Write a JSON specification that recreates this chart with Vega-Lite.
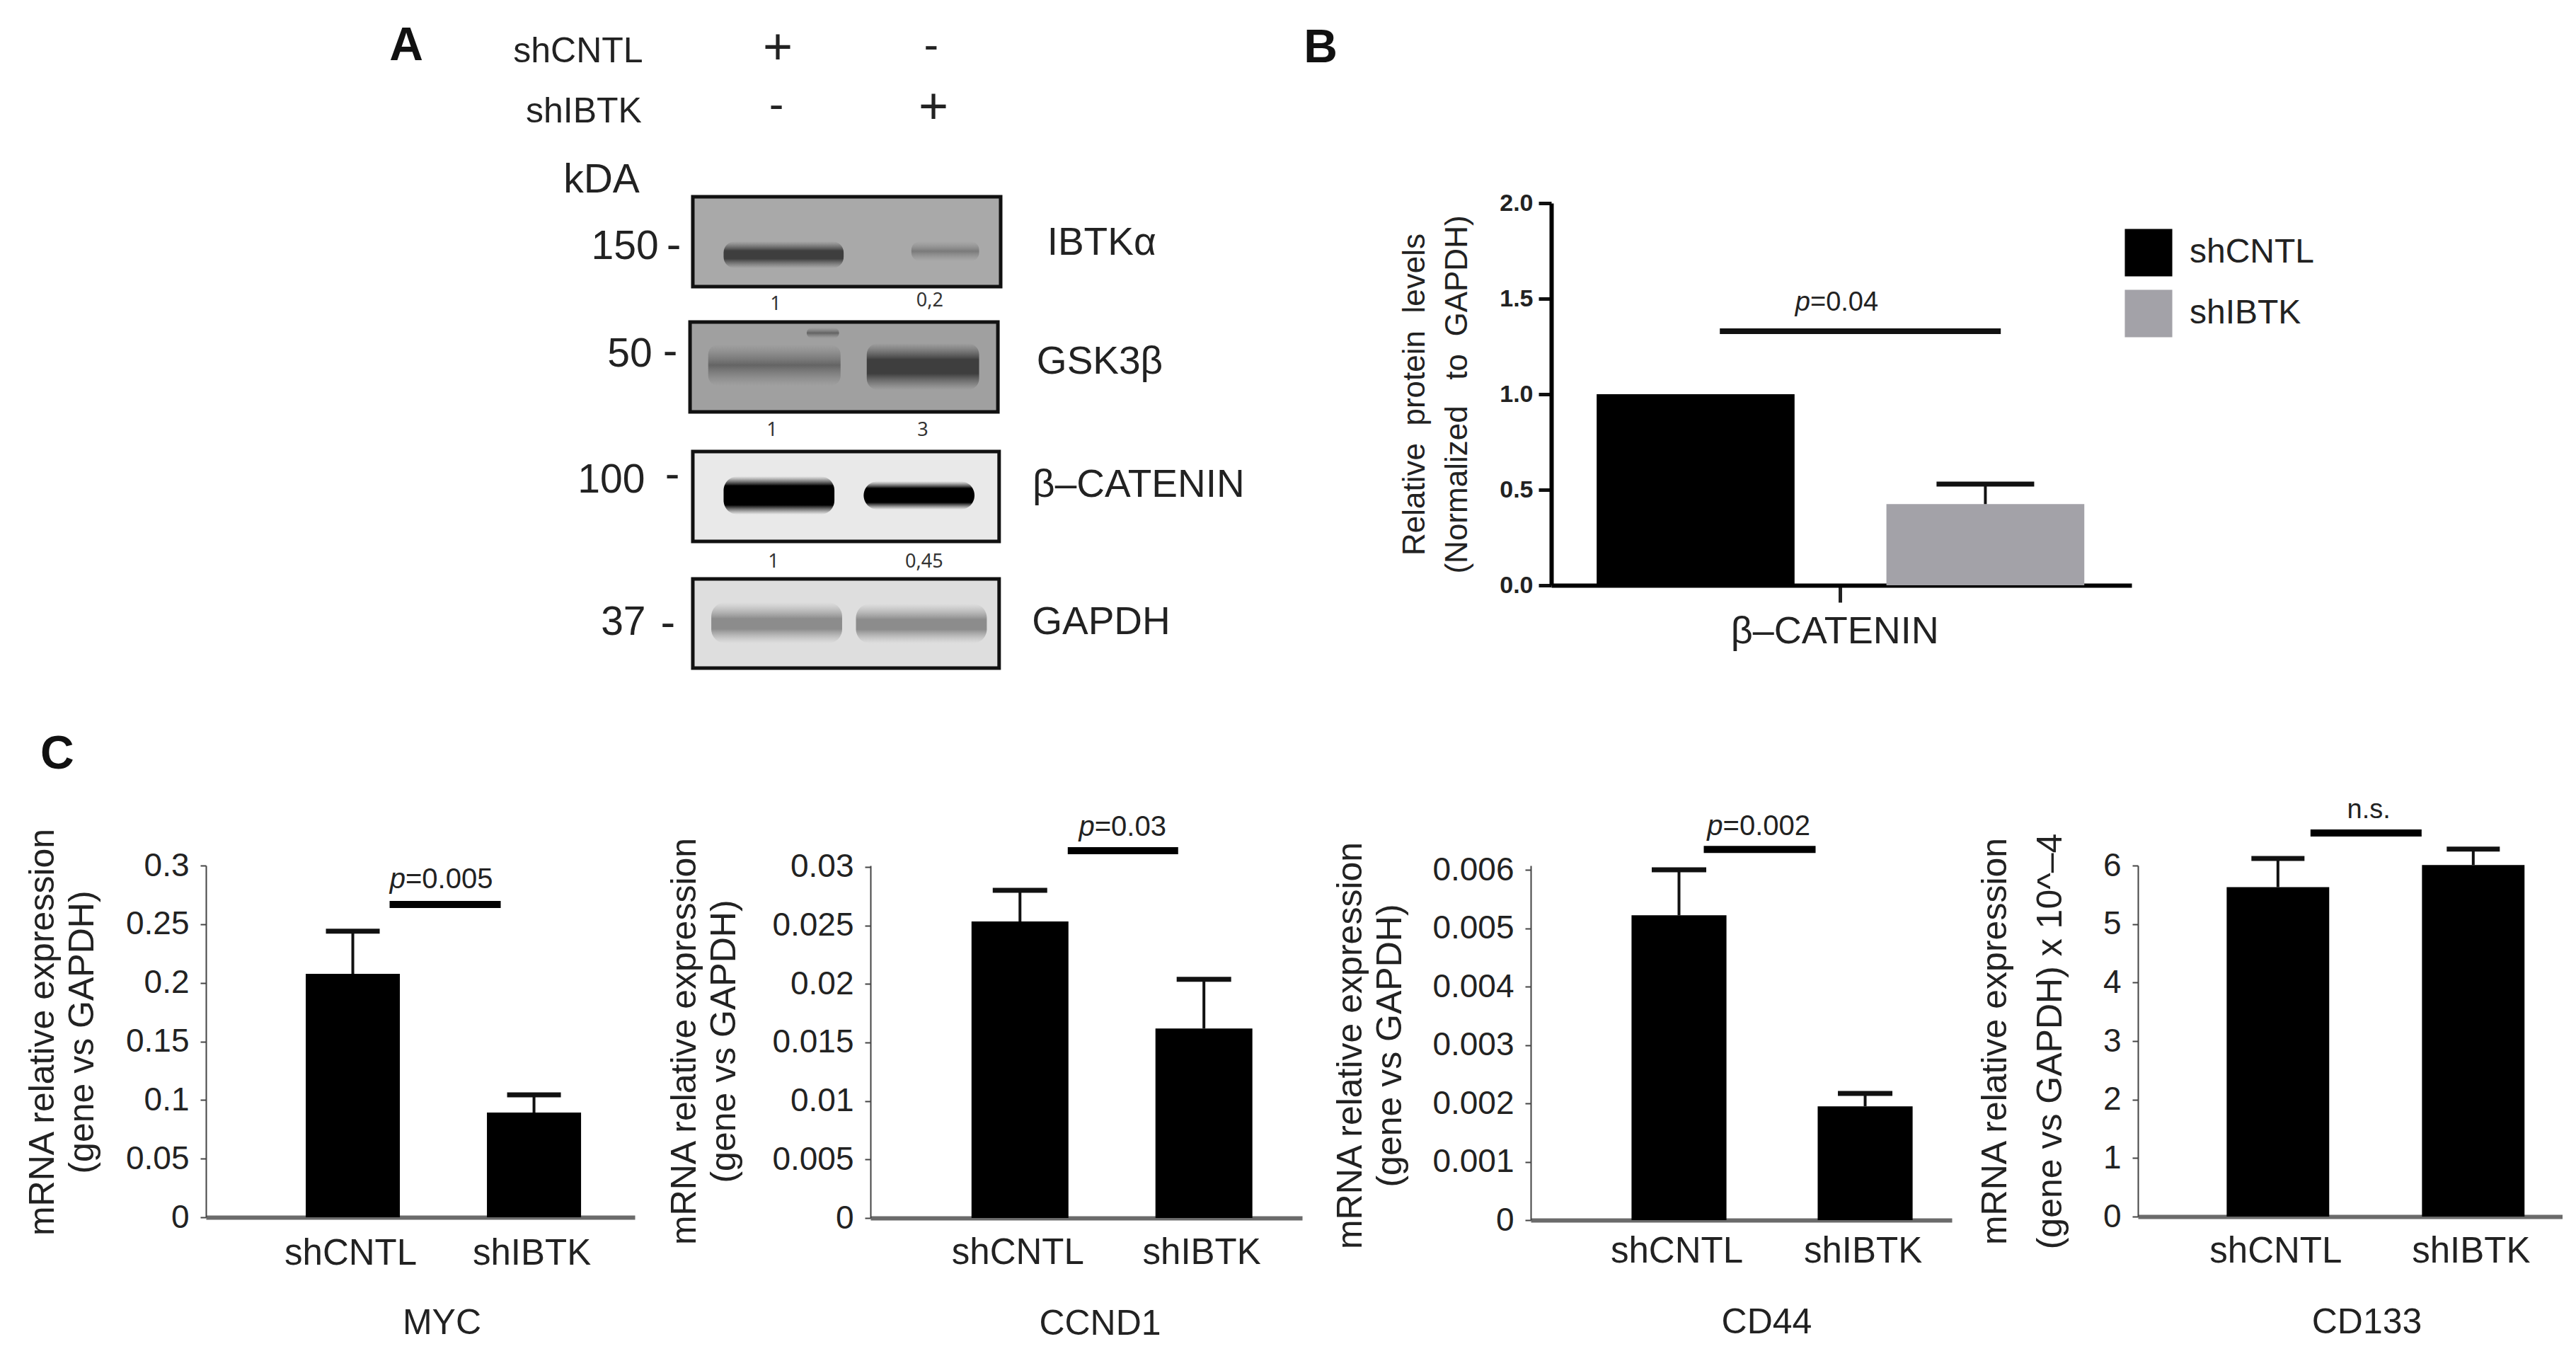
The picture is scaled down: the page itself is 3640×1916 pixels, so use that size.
{
"$schema":"https://vega.github.io/schema/vega-lite/v6.json",
"background":"white",
"padding":{"left":35,"top":31,"right":0,"bottom":0},
"bounds":"flush",
"spacing":936,
"config":{"font":"Liberation Sans","view":{"stroke":null},"axis":{"grid":false,"labelColor":"#222","titleColor":"#222","labelFont":"Liberation Sans","titleFont":"Liberation Sans","titleFontWeight":"normal","labelLimit":600}},
"datasets":{
"blots":[{"blot":"IBTKa","x":-0.0,"x2":2.0,"y":-0.045,"y2":0.59,"shade":"#a9a9a9"},{"blot":"GSK3b","x":-0.018,"x2":1.982,"y":0.84,"y2":1.475,"shade":"#a0a0a0"},{"blot":"CTNNB1","x":0,"x2":1.99,"y":1.755,"y2":2.39,"shade":"#e9e9e9"},{"blot":"GAPDH","x":0,"x2":1.99,"y":2.655,"y2":3.285,"shade":"#dedede"}],
"bands":[
{"blot":"IBTKa","lane":1,"level":"dark","x":0.2,"x2":0.98,"y":0.27,"y2":0.46},
{"blot":"IBTKa","lane":2,"level":"faint","x":1.42,"x2":1.86,"y":0.27,"y2":0.41},
{"blot":"GSK3b","lane":1,"level":"mid","x":0.1,"x2":0.96,"y":1.0,"y2":1.29},
{"blot":"GSK3b","lane":1,"level":"mid","x":0.74,"x2":0.95,"y":0.88,"y2":0.955},
{"blot":"GSK3b","lane":2,"level":"dark","x":1.13,"x2":1.86,"y":0.99,"y2":1.32},
{"blot":"CTNNB1","lane":1,"level":"black","x":0.2,"x2":0.92,"y":1.93,"y2":2.2},
{"blot":"CTNNB1","lane":2,"level":"black","x":1.11,"x2":1.83,"y":1.965,"y2":2.165},
{"blot":"GAPDH","lane":1,"level":"soft","x":0.12,"x2":0.97,"y":2.82,"y2":3.11},
{"blot":"GAPDH","lane":2,"level":"soft","x":1.06,"x2":1.91,"y":2.83,"y2":3.11}],
"labels":[{"t":"shCNTL","x":-0.745,"y":-1.07},{"t":"shIBTK","x":-0.708,"y":-0.645}],
"plus":[{"t":"+","x":0.552,"y":-1.095},{"t":"+","x":1.563,"y":-0.675}],
"minus":[{"t":"-","x":1.549,"y":-1.11},{"t":"-","x":0.543,"y":-0.69},{"t":"-","x":-0.124,"y":0.3},{"t":"-","x":-0.147,"y":1.05},{"t":"-","x":-0.133,"y":1.92},{"t":"-","x":-0.161,"y":2.97}],
"big":[{"t":"kDA","x":-0.593,"y":-0.16},{"t":"150","x":-0.441,"y":0.31},{"t":"50","x":-0.409,"y":1.07},{"t":"100","x":-0.529,"y":1.96},{"t":"37","x":-0.451,"y":2.965}],
"names":[{"t":"IBTKα","x":2.656,"y":0.28},{"t":"GSK3β","x":2.644,"y":1.12},{"t":"β–CATENIN","x":2.896,"y":1.99},{"t":"GAPDH","x":2.653,"y":2.96}],
"quant":[{"t":"1","x":0.538,"y":0.715},{"t":"0,2","x":1.54,"y":0.69},{"t":"1","x":0.515,"y":1.605},{"t":"3","x":1.494,"y":1.605},{"t":"1","x":0.524,"y":2.535},{"t":"0,45","x":1.503,"y":2.535}],
"letters":[{"t":"A","x":-1.862,"y":-1.11},{"t":"B","x":4.078,"y":-1.095},{"t":"C","x":-4.129,"y":3.895}]
},
"vconcat":[
{"bounds":"flush","spacing":0,"hconcat":[
{"width":1901,"height":600,
"layer":[
{"data":{"name":"blots"},"mark":{"type":"rect","stroke":"#111","strokeWidth":5},
"encoding":{"x":{"field":"x","type":"quantitative","axis":null,"scale":{"domain":[-3.163,5.577],"nice":false,"zero":false}},"x2":{"field":"x2"},"y":{"field":"y","type":"quantitative","axis":null,"scale":{"domain":[3,0],"nice":false,"zero":false}},"y2":{"field":"y2"},"fill":{"field":"shade","type":"nominal","scale":null}}},
{"data":{"name":"bands"},"transform":[{"filter":"datum.level=='faint'"}],"mark":{"type":"rect","cornerRadius":12,"fill":{"gradient":"linear","x1":0,"y1":0,"x2":0,"y2":1,"stops":[{"offset":0,"color":"rgba(140,140,140,0)"},{"offset":0.5,"color":"rgba(122,122,122,1)"},{"offset":1,"color":"rgba(140,140,140,0)"}]}},"encoding":{"x":{"field":"x","type":"quantitative"},"x2":{"field":"x2"},"y":{"field":"y","type":"quantitative"},"y2":{"field":"y2"}}},
{"data":{"name":"bands"},"transform":[{"filter":"datum.level=='mid'"}],"mark":{"type":"rect","cornerRadius":14,"fill":{"gradient":"linear","x1":0,"y1":0,"x2":0,"y2":1,"stops":[{"offset":0,"color":"rgba(120,120,120,0)"},{"offset":0.5,"color":"rgba(100,100,100,1)"},{"offset":1,"color":"rgba(120,120,120,0)"}]}},"encoding":{"x":{"field":"x","type":"quantitative"},"x2":{"field":"x2"},"y":{"field":"y","type":"quantitative"},"y2":{"field":"y2"}}},
{"data":{"name":"bands"},"transform":[{"filter":"datum.level=='dark'"}],"mark":{"type":"rect","cornerRadius":16,"fill":{"gradient":"linear","x1":0,"y1":0,"x2":0,"y2":1,"stops":[{"offset":0,"color":"rgba(90,90,90,0)"},{"offset":0.35,"color":"rgba(62,62,62,1)"},{"offset":0.65,"color":"rgba(62,62,62,1)"},{"offset":1,"color":"rgba(90,90,90,0)"}]}},"encoding":{"x":{"field":"x","type":"quantitative"},"x2":{"field":"x2"},"y":{"field":"y","type":"quantitative"},"y2":{"field":"y2"}}},
{"data":{"name":"bands"},"transform":[{"filter":"datum.level=='black'"}],"mark":{"type":"rect","cornerRadius":20,"fill":{"gradient":"linear","x1":0,"y1":0,"x2":0,"y2":1,"stops":[{"offset":0,"color":"rgba(60,60,60,0)"},{"offset":0.25,"color":"rgba(0,0,0,1)"},{"offset":0.75,"color":"rgba(0,0,0,1)"},{"offset":1,"color":"rgba(60,60,60,0)"}]}},"encoding":{"x":{"field":"x","type":"quantitative"},"x2":{"field":"x2"},"y":{"field":"y","type":"quantitative"},"y2":{"field":"y2"}}},
{"data":{"name":"bands"},"transform":[{"filter":"datum.level=='soft'"}],"mark":{"type":"rect","cornerRadius":20,"fill":{"gradient":"linear","x1":0,"y1":0,"x2":0,"y2":1,"stops":[{"offset":0,"color":"rgba(170,170,170,0)"},{"offset":0.4,"color":"rgba(140,140,140,1)"},{"offset":0.65,"color":"rgba(140,140,140,1)"},{"offset":1,"color":"rgba(170,170,170,0)"}]}},"encoding":{"x":{"field":"x","type":"quantitative"},"x2":{"field":"x2"},"y":{"field":"y","type":"quantitative"},"y2":{"field":"y2"}}},
{"data":{"name":"labels"},"mark":{"type":"text","fontSize":50,"color":"#222","baseline":"middle"},"encoding":{"x":{"field":"x","type":"quantitative"},"y":{"field":"y","type":"quantitative"},"text":{"field":"t"}}},
{"data":{"name":"big"},"mark":{"type":"text","fontSize":57,"color":"#222","baseline":"middle"},"encoding":{"x":{"field":"x","type":"quantitative"},"y":{"field":"y","type":"quantitative"},"text":{"field":"t"}}},
{"data":{"name":"names"},"mark":{"type":"text","fontSize":55,"color":"#222","baseline":"middle"},"encoding":{"x":{"field":"x","type":"quantitative"},"y":{"field":"y","type":"quantitative"},"text":{"field":"t"}}},
{"data":{"name":"plus"},"mark":{"type":"text","fontSize":72,"color":"#222","baseline":"middle"},"encoding":{"x":{"field":"x","type":"quantitative"},"y":{"field":"y","type":"quantitative"},"text":{"field":"t"}}},
{"data":{"name":"minus"},"mark":{"type":"text","fontSize":62,"color":"#222","baseline":"middle"},"encoding":{"x":{"field":"x","type":"quantitative"},"y":{"field":"y","type":"quantitative"},"text":{"field":"t"}}},
{"data":{"name":"quant"},"mark":{"type":"text","fontSize":27,"font":"Noto Sans","color":"#333","baseline":"middle"},"encoding":{"x":{"field":"x","type":"quantitative"},"y":{"field":"y","type":"quantitative"},"text":{"field":"t"}}},
{"data":{"name":"letters"},"mark":{"type":"text","fontSize":66,"fontWeight":"bold","color":"#111","baseline":"middle"},"encoding":{"x":{"field":"x","type":"quantitative"},"y":{"field":"y","type":"quantitative"},"text":{"field":"t"}}}
]},
{"width":820,"height":540,
"data":{"values":[{"gene":"β–CATENIN","group":"shCNTL","mean":1.0},{"gene":"β–CATENIN","group":"shIBTK","mean":0.425,"upper":0.53}]},
"layer":[
{"mark":{"type":"bar"},"encoding":{
"x":{"field":"gene","type":"nominal","scale":{"type":"band","range":[0,820],"paddingInner":0,"paddingOuter":0.095,"align":0.49},"axis":{"title":null,"labelAngle":0,"labelFontSize":54,"labelPadding":14,"labelOffset":-8,"domainColor":"#000","domainWidth":6,"tickColor":"#222","tickWidth":5,"tickSize":24}},
"xOffset":{"field":"group","type":"nominal","scale":{"domain":["shCNTL","shIBTK"],"paddingInner":0.317,"paddingOuter":0}},
"y":{"field":"mean","type":"quantitative","scale":{"domain":[0,2],"nice":false},"axis":{"values":[0,0.5,1,1.5,2],"format":".1f","labelFontSize":34,"labelFontWeight":"bold","labelPadding":8,"domainColor":"#000","domainWidth":6,"tickColor":"#111","tickWidth":5,"tickSize":18,"title":["Relative\u00a0\u00a0protein\u00a0\u00a0levels\u00a0\u00a0\u00a0\u00a0","(Normalized\u00a0\u00a0\u00a0to\u00a0\u00a0GAPDH)"],"titleFontSize":44,"titleLineHeight":60,"titleAngle":-90,"titleBaseline":"alphabetic","titleAlign":"center","titleX":-180,"titleY":270}},
"color":{"field":"group","type":"nominal","scale":{"domain":["shCNTL","shIBTK"],"range":["#000000","#a3a2a8"]},"legend":{"title":null,"orient":"none","legendX":2711,"legendY":36,"symbolType":"square","symbolSize":4500,"symbolStrokeWidth":0,"labelFontSize":48,"labelLimit":400,"labelColor":"#222","labelOffset":24,"rowPadding":18}}}},
{"transform":[{"filter":"isValid(datum.upper)"}],"mark":{"type":"rule","color":"#111","strokeWidth":4},"encoding":{"x":{"field":"gene","type":"nominal"},"xOffset":{"field":"group","type":"nominal"},"y":{"field":"mean","type":"quantitative"},"y2":{"field":"upper"}}},
{"transform":[{"filter":"isValid(datum.upper)"}],"mark":{"type":"tick","orient":"horizontal","color":"#111","opacity":1,"size":138,"thickness":7},"encoding":{"x":{"field":"gene","type":"nominal"},"xOffset":{"field":"group","type":"nominal"},"y":{"field":"upper","type":"quantitative"}}},
{"data":{"values":[{"gene":"β–CATENIN","bar":1.33}]},"mark":{"type":"tick","orient":"horizontal","color":"#111","opacity":1,"size":397,"thickness":8,"xOffset":28},"encoding":{"x":{"field":"gene","type":"nominal"},"y":{"field":"bar","type":"quantitative"}}},
{"data":{"values":[{"gene":"β–CATENIN","py":1.478,"a":"p","b":"=0.04"}]},"mark":{"type":"text","align":"right","fontStyle":"italic","fontSize":38,"color":"#222","baseline":"middle"},"encoding":{"x":{"field":"gene","type":"nominal","bandPosition":0.438},"y":{"field":"py","type":"quantitative"},"text":{"field":"a"}}},
{"data":{"values":[{"gene":"β–CATENIN","py":1.478,"a":"p","b":"=0.04"}]},"mark":{"type":"text","align":"left","fontSize":38,"color":"#222","baseline":"middle"},"encoding":{"x":{"field":"gene","type":"nominal","bandPosition":0.438},"y":{"field":"py","type":"quantitative"},"text":{"field":"b"}}}
]}
]},
{"bounds":"flush","spacing":0,"hconcat":[
{"width":939,"height":497,
"data":{"values":[{"group":"shCNTL","mean":0.2076,"upper":0.244},{"group":"shIBTK","mean":0.0893,"upper":0.1044}]},
"layer":[
{"mark":{"type":"bar","color":"#000"},"encoding":{
"x":{"field":"group","type":"nominal","scale":{"type":"band","domain":["shCNTL","shIBTK"],"range":[0,606],"paddingInner":0.4805,"paddingOuter":0.4237,"align":0.65},"axis":{"labelAngle":0,"labelFontSize":51,"labelPadding":26,"labelOffset":-3,"ticks":false,"domainColor":"#6b6b6b","domainWidth":6,"title":"MYC","titleFontSize":50,"titleX":333,"titleY":149,"titleBaseline":"middle","titleAlign":"center"}},
"y":{"field":"mean","type":"quantitative","scale":{"domain":[0,0.3],"nice":false},"axis":{"values":[0,0.05,0.1,0.15,0.2,0.25,0.3],"format":"~g","labelFontSize":46,"labelPadding":16,"domainColor":"#444","domainWidth":2,"tickColor":"#444","tickWidth":2,"tickSize":8,"title":["mRNA relative expression","(gene vs GAPDH)"],"titleFontSize":50,"titleLineHeight":56,"titleAngle":-90,"titleBaseline":"alphabetic","titleAlign":"center","titleX":-216,"titleY":235}}}},
{"mark":{"type":"rule","color":"#111","strokeWidth":4},"encoding":{"x":{"field":"group","type":"nominal"},"y":{"field":"mean","type":"quantitative"},"y2":{"field":"upper"}}},
{"mark":{"type":"tick","orient":"horizontal","color":"#111","opacity":1,"size":76,"thickness":7},"encoding":{"x":{"field":"group","type":"nominal"},"y":{"field":"upper","type":"quantitative"}}},
{"data":{"values":[{"group":"shCNTL","bar":0.2668}]},"mark":{"type":"tick","orient":"horizontal","color":"#000","opacity":1,"size":157,"thickness":10,"xOffset":130.5},"encoding":{"x":{"field":"group","type":"nominal"},"y":{"field":"bar","type":"quantitative"}}},
{"data":{"values":[{"group":"shCNTL","py":0.288,"a":"p","b":"=0.005"}]},"mark":{"type":"text","align":"right","fontStyle":"italic","fontSize":40,"color":"#222","baseline":"middle"},"encoding":{"x":{"field":"group","type":"nominal","bandPosition":1.06},"y":{"field":"py","type":"quantitative"},"text":{"field":"a"}}},
{"data":{"values":[{"group":"shCNTL","py":0.288,"a":"p","b":"=0.005"}]},"mark":{"type":"text","align":"left","fontSize":40,"color":"#222","baseline":"middle"},"encoding":{"x":{"field":"group","type":"nominal","bandPosition":1.06},"y":{"field":"py","type":"quantitative"},"text":{"field":"b"}}}
]},
{"width":933,"height":498,
"data":{"values":[{"group":"shCNTL","mean":0.02534,"upper":0.028},{"group":"shIBTK","mean":0.0162,"upper":0.0204}]},
"layer":[
{"mark":{"type":"bar","color":"#000"},"encoding":{
"x":{"field":"group","type":"nominal","scale":{"type":"band","domain":["shCNTL","shIBTK"],"range":[0,610],"paddingInner":0.473,"paddingOuter":0.41,"align":0.67},"axis":{"labelAngle":0,"labelFontSize":51,"labelPadding":24,"labelOffset":-3,"ticks":false,"domainColor":"#6b6b6b","domainWidth":6,"title":"CCND1","titleFontSize":50,"titleX":324,"titleY":149,"titleBaseline":"middle","titleAlign":"center"}},
"y":{"field":"mean","type":"quantitative","scale":{"domain":[0,0.03012],"nice":false},"axis":{"values":[0,0.005,0.01,0.015,0.02,0.025,0.03],"format":"~g","labelFontSize":46,"labelPadding":16,"domainColor":"#444","domainWidth":2,"tickColor":"#444","tickWidth":2,"tickSize":8,"title":["mRNA relative expression","(gene vs GAPDH)"],"titleFontSize":50,"titleLineHeight":56,"titleAngle":-90,"titleBaseline":"alphabetic","titleAlign":"center","titleX":-248,"titleY":248}}}},
{"mark":{"type":"rule","color":"#111","strokeWidth":4},"encoding":{"x":{"field":"group","type":"nominal"},"y":{"field":"mean","type":"quantitative"},"y2":{"field":"upper"}}},
{"mark":{"type":"tick","orient":"horizontal","color":"#111","opacity":1,"size":77,"thickness":7},"encoding":{"x":{"field":"group","type":"nominal"},"y":{"field":"upper","type":"quantitative"}}},
{"data":{"values":[{"group":"shCNTL","bar":0.03139}]},"mark":{"type":"tick","orient":"horizontal","color":"#000","opacity":1,"size":156,"thickness":10,"xOffset":145.5},"encoding":{"x":{"field":"group","type":"nominal"},"y":{"field":"bar","type":"quantitative"}}},
{"data":{"values":[{"group":"shCNTL","py":0.03339,"a":"p","b":"=0.03"}]},"mark":{"type":"text","align":"right","fontStyle":"italic","fontSize":40,"color":"#222","baseline":"middle"},"encoding":{"x":{"field":"group","type":"nominal","bandPosition":1.27},"y":{"field":"py","type":"quantitative"},"text":{"field":"a"}}},
{"data":{"values":[{"group":"shCNTL","py":0.03339,"a":"p","b":"=0.03"}]},"mark":{"type":"text","align":"left","fontSize":40,"color":"#222","baseline":"middle"},"encoding":{"x":{"field":"group","type":"nominal","bandPosition":1.27},"y":{"field":"py","type":"quantitative"},"text":{"field":"b"}}}
]},
{"width":858,"height":501,
"data":{"values":[{"group":"shCNTL","mean":0.00522,"upper":0.006},{"group":"shIBTK","mean":0.00195,"upper":0.00217}]},
"layer":[
{"mark":{"type":"bar","color":"#000"},"encoding":{
"x":{"field":"group","type":"nominal","scale":{"type":"band","domain":["shCNTL","shIBTK"],"range":[0,595],"paddingInner":0.49,"paddingOuter":0.376,"align":0.72},"axis":{"labelAngle":0,"labelFontSize":51,"labelPadding":19,"labelOffset":-3,"ticks":false,"domainColor":"#6b6b6b","domainWidth":6,"title":"CD44","titleFontSize":50,"titleX":333,"titleY":144,"titleBaseline":"middle","titleAlign":"center"}},
"y":{"field":"mean","type":"quantitative","scale":{"domain":[0,0.006073],"nice":false},"axis":{"values":[0,0.001,0.002,0.003,0.004,0.005,0.006],"format":"~g","labelFontSize":46,"labelPadding":16,"domainColor":"#444","domainWidth":2,"tickColor":"#444","tickWidth":2,"tickSize":8,"title":["mRNA relative expression","(gene vs GAPDH)"],"titleFontSize":50,"titleLineHeight":56,"titleAngle":-90,"titleBaseline":"alphabetic","titleAlign":"center","titleX":-240,"titleY":254}}}},
{"mark":{"type":"rule","color":"#111","strokeWidth":4},"encoding":{"x":{"field":"group","type":"nominal"},"y":{"field":"mean","type":"quantitative"},"y2":{"field":"upper"}}},
{"mark":{"type":"tick","orient":"horizontal","color":"#111","opacity":1,"size":77,"thickness":7},"encoding":{"x":{"field":"group","type":"nominal"},"y":{"field":"upper","type":"quantitative"}}},
{"data":{"values":[{"group":"shCNTL","bar":0.00635}]},"mark":{"type":"tick","orient":"horizontal","color":"#000","opacity":1,"size":158,"thickness":10,"xOffset":114},"encoding":{"x":{"field":"group","type":"nominal"},"y":{"field":"bar","type":"quantitative"}}},
{"data":{"values":[{"group":"shCNTL","py":0.00674,"a":"p","b":"=0.002"}]},"mark":{"type":"text","align":"right","fontStyle":"italic","fontSize":40,"color":"#222","baseline":"middle"},"encoding":{"x":{"field":"group","type":"nominal","bandPosition":0.963},"y":{"field":"py","type":"quantitative"},"text":{"field":"a"}}},
{"data":{"values":[{"group":"shCNTL","py":0.00674,"a":"p","b":"=0.002"}]},"mark":{"type":"text","align":"left","fontSize":40,"color":"#222","baseline":"middle"},"encoding":{"x":{"field":"group","type":"nominal","bandPosition":0.963},"y":{"field":"py","type":"quantitative"},"text":{"field":"b"}}}
]},
{"width":600,"height":496,
"data":{"values":[{"group":"shCNTL","mean":5.63,"upper":6.12},{"group":"shIBTK","mean":6.01,"upper":6.28}]},
"layer":[
{"mark":{"type":"bar","color":"#000"},"encoding":{
"x":{"field":"group","type":"nominal","scale":{"type":"band","domain":["shCNTL","shIBTK"],"range":[0,600],"paddingInner":0.475,"paddingOuter":0.3245,"align":0.7},"axis":{"labelAngle":0,"labelFontSize":51,"labelPadding":24,"labelOffset":-3,"ticks":false,"domainColor":"#6b6b6b","domainWidth":6,"title":"CD133","titleFontSize":50,"titleX":323,"titleY":149,"titleBaseline":"middle","titleAlign":"center"}},
"y":{"field":"mean","type":"quantitative","scale":{"domain":[0,6],"nice":false},"axis":{"values":[0,1,2,3,4,5,6],"format":"~g","labelFontSize":46,"labelPadding":16,"domainColor":"#444","domainWidth":2,"tickColor":"#444","tickWidth":2,"tickSize":8,"title":["mRNA relative expression","\u00a0\u00a0\u00a0(gene vs GAPDH) x 10^–4"],"titleFontSize":50,"titleLineHeight":78,"titleAngle":-90,"titleBaseline":"alphabetic","titleAlign":"center","titleX":-187,"titleY":248}}}},
{"mark":{"type":"rule","color":"#111","strokeWidth":4},"encoding":{"x":{"field":"group","type":"nominal"},"y":{"field":"mean","type":"quantitative"},"y2":{"field":"upper"}}},
{"mark":{"type":"tick","orient":"horizontal","color":"#111","opacity":1,"size":75,"thickness":7},"encoding":{"x":{"field":"group","type":"nominal"},"y":{"field":"upper","type":"quantitative"}}},
{"data":{"values":[{"group":"shCNTL","bar":6.556}]},"mark":{"type":"tick","orient":"horizontal","color":"#000","opacity":1,"size":157,"thickness":10,"xOffset":124.5},"encoding":{"x":{"field":"group","type":"nominal"},"y":{"field":"bar","type":"quantitative"}}},
{"data":{"values":[{"group":"shCNTL","py":6.94,"a":"n.s."}]},"mark":{"type":"text","align":"center","fontSize":38,"color":"#222","baseline":"middle"},"encoding":{"x":{"field":"group","type":"nominal","bandPosition":1.386},"y":{"field":"py","type":"quantitative"},"text":{"field":"a"}}}
]}
]}
]
}
